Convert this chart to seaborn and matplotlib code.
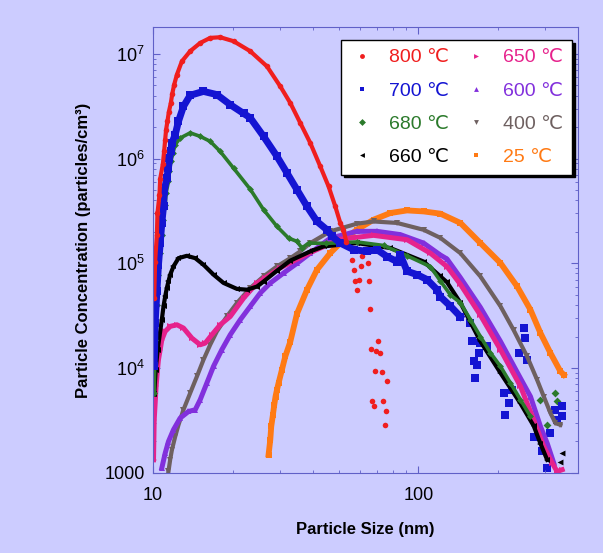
import matplotlib
matplotlib.use("Agg")
import matplotlib.pyplot as plt
import seaborn as sns
from matplotlib.lines import Line2D
from matplotlib.ticker import FixedLocator, NullFormatter, LogLocator

# ---- data (size in nm, concentration in particles/cm3) ----
red_x = [10.09, 10.17, 10.33, 10.38, 10.56, 10.63, 10.88, 11.00, 11.10, 11.19, 11.32, 11.46,
         11.66, 11.80, 12.00, 12.29, 12.83, 13.79, 15.04, 16.41, 17.90, 20.10, 23.23, 26.86,
         30.16, 32.89, 35.87, 39.13, 42.68, 45.86, 48.63, 50.78, 52.2, 53.5]
red_y = [4.7e4, 1.04e5, 1.88e5, 3.0e5, 4.45e5, 6.4e5, 8.9e5, 1.17e6, 1.52e6, 1.89e6, 2.27e6, 2.79e6,
         3.40e6, 4.14e6, 5.08e6, 6.33e6, 8.48e6, 1.06e7, 1.27e7, 1.42e7, 1.44e7, 1.32e7, 1.06e7, 7.6e6,
         4.89e6, 3.40e6, 2.19e6, 1.41e6, 8.42e5, 5.43e5, 3.49e5, 2.43e5, 2.09e5, 1.61e5]
red_tail_x = [56.2, 61.3, 57.0, 60.8, 64.4, 57.8, 59.9, 64.9, 58.7, 65.9, 70.2, 66.3, 69.4, 71.9,
              68.8, 73.0, 76.2, 66.9, 73.6, 68.2, 75.7, 74.6]
red_tail_y = [1.08e5, 1.18e5, 8.69e4, 9.34e4, 1.01e5, 6.72e4, 6.97e4, 6.82e4, 5.51e4, 3.66e4, 1.80e4,
              1.52e4, 1.47e4, 1.39e4, 9.28e3, 9.16e3, 7.56e3, 4.90e3, 4.90e3, 4.36e3, 3.88e3, 2.83e3]

blue_x = [10.09, 10.17, 10.33, 10.47, 10.63, 10.78, 10.94, 11.00, 11.26, 11.42, 11.52, 11.66, 11.77,
          12.11, 12.46, 13.01, 13.79, 15.48, 17.39, 19.53, 21.92, 23.23, 26.08, 29.30, 31.96, 34.86,
          38.04, 41.48, 45.23, 47.25, 50.78, 57.0, 64.05, 69.86, 76.2, 83.1, 85.5, 90.7, 98.9, 107.9,
          117.7, 121.1, 132.1, 144.1]
blue_y = [1.04e4, 2.69e4, 5.39e4, 9.69e4, 1.56e5, 2.43e5, 3.50e5, 4.86e5, 6.53e5, 8.13e5, 1.01e6,
          1.17e6, 1.41e6, 1.69e6, 2.27e6, 3.15e6, 4.02e6, 4.38e6, 4.08e6, 3.27e6, 2.7e6, 2.45e6, 1.63e6,
          1.05e6, 7.29e5, 5.05e5, 3.49e5, 2.51e5, 2.09e5, 1.81e5, 1.56e5, 1.35e5, 1.30e5, 1.35e5,
          1.16e5, 1.04e5, 1.21e5, 8.4e4, 7.8e4, 7.0e4, 5.6e4, 4.8e4, 3.9e4, 3.1e4]
blue_tail_x = [157.2, 159.5, 161.7, 164.1, 166.6, 168.9, 171.4, 181.7, 209.9, 213.0, 219.2, 225.8,
               239.1, 249.7, 253.4, 257.2, 272.4, 293.1, 306.1, 315.0, 328.9, 333.8, 348.6, 348.6]
blue_tail_y = [2.69e4, 1.80e4, 1.16e4, 8.0e3, 1.08e4, 1.39e4, 1.73e4, 1.61e4, 5.77e3, 3.58e3, 4.63e3,
               6.20e3, 1.39e4, 2.41e4, 1.93e4, 1.20e4, 2.22e3, 1.60e3, 1.11e3, 2.39e3, 4.00e3, 3.21e3,
               4.30e3, 3.45e3]

green_x = [10.09, 10.17, 10.33, 10.47, 10.63, 10.78, 10.88, 11.10, 11.19, 11.42, 11.52, 11.66, 11.87,
           12.11, 12.64, 13.79, 15.04, 16.41, 17.90, 20.10, 23.23, 26.08, 29.30, 32.41, 34.86, 36.41,
           38.56, 45.0, 58.7, 73.97, 90.7, 111.0, 121.1, 132.1, 144.1, 157.2, 171.4, 187.0, 204.0,
           222.5, 242.7, 264.8]
green_y = [5.8e3, 1.86e4, 4.0e4, 7.8e4, 1.25e5, 1.88e5, 2.61e5, 3.63e5, 4.69e5, 6.06e5, 7.55e5, 9.4e5,
           1.13e6, 1.36e6, 1.57e6, 1.76e6, 1.63e6, 1.46e6, 1.17e6, 8.1e5, 5.1e5, 3.25e5, 2.25e5,
           1.74e5, 1.62e5, 1.40e5, 1.56e5, 1.55e5, 1.6e5, 1.48e5, 1.18e5, 9.3e4, 6.8e4, 5.0e4, 4.2e4,
           2.9e4, 2.0e4, 1.4e4, 1.04e4, 7.2e3, 5.0e3, 3.45e3]
green_tail_x = [280.6, 288.8, 306.1, 328.9, 333.8]
green_tail_y = [2.39e3, 4.98e3, 2.87e3, 5.77e3, 4.80e3]

black_x = [10.09, 10.22, 10.40, 10.78, 10.94, 11.10, 11.26, 11.42, 11.59, 11.93, 12.46, 13.40, 14.41,
           15.48, 16.89, 18.42, 20.70, 22.58, 24.63, 26.08, 29.30, 32.89, 39.13, 43.92, 58.7, 78.4,
           104.7, 121.1, 128.3, 144.1, 171.4, 204.0, 242.7, 272.4, 288.8, 306.1]
black_y = [5.6e3, 9.6e3, 1.5e4, 2.89e4, 3.88e4, 4.83e4, 5.81e4, 6.72e4, 7.78e4, 9.34e4, 1.12e5, 1.18e5,
           1.12e5, 9.7e4, 7.8e4, 6.5e4, 5.7e4, 5.6e4, 6.0e4, 6.7e4, 8.5e4, 1.06e5, 1.30e5, 1.45e5,
           1.56e5, 1.40e5, 1.04e5, 7.5e4, 6.6e4, 4.2e4, 1.8e4, 9.0e3, 4.6e3, 2.8e3, 1.9e3, 1.33e3]
black_tail_x = [343.6, 348.6]
black_tail_y = [1.28e3, 1.54e3]

pink_x = [10.03, 10.09, 10.26, 10.38, 10.47, 10.63, 10.78, 11.10, 11.59, 12.29, 13.01, 14.00, 15.04,
          15.71, 16.65, 17.90, 19.53, 22.0, 24.63, 26.46, 30.0, 35.0, 40.0, 50.78, 67.8, 90.7, 111.0,
          128.3, 144.1, 171.4, 204.0, 242.7, 272.4, 297.2, 319.7, 333.8, 348.6]
pink_y = [1.33e3, 3.2e3, 6.7e3, 9.6e3, 1.2e4, 1.5e4, 1.86e4, 2.24e4, 2.50e4, 2.59e4, 2.41e4, 1.93e4,
          1.67e4, 1.73e4, 2.08e4, 2.59e4, 3.11e4, 4.7e4, 6.48e4, 7.24e4, 9.0e4, 1.1e5, 1.3e5, 1.70e5,
          1.85e5, 1.68e5, 1.25e5, 9.3e4, 6.3e4, 3.2e4, 1.5e4, 6.7e3, 3.2e3, 1.78e3, 1.24e3, 1.03e3,
          1.07e3]

purple_x = [10.78, 11.10, 11.42, 11.93, 12.64, 13.59, 14.41, 15.04, 15.94, 16.89, 18.16, 19.53, 21.30,
            23.23, 25.34, 27.65, 31.03, 34.86, 39.13, 46.56, 58.7, 69.86, 85.5, 104.7, 121.1, 128.3,
            144.1, 171.4, 204.0, 242.7, 264.8, 288.8, 306.1, 324.1]
purple_y = [1.11e3, 1.54e3, 1.99e3, 2.58e3, 3.33e3, 3.85e3, 4.0e3, 4.98e3, 7.2e3, 1.04e4, 1.50e4,
            2.08e4, 2.89e4, 3.88e4, 5.2e4, 6.48e4, 8.08e4, 1.0e5, 1.25e5, 1.74e5, 2.02e5, 2.02e5,
            1.88e5, 1.56e5, 1.2e5, 1.1e5, 7.3e4, 3.8e4, 1.8e4, 8.0e3, 5.35e3, 2.77e3, 1.92e3, 1.24e3]

grey_x = [11.42, 11.59, 11.77, 12.11, 12.46, 13.01, 13.79, 14.62, 15.48, 16.41, 17.39, 18.97, 20.70,
          23.23, 26.08, 29.30, 32.89, 35.87, 39.13, 46.56, 58.7, 67.8, 83.1, 104.7, 121.1, 144.1,
          171.4, 204.0, 228.9, 257.2, 280.6, 297.2, 315.0, 328.9, 343.6]
grey_y = [1.03e3, 1.33e3, 1.66e3, 2.22e3, 2.87e3, 4.0e3, 5.77e3, 8.31e3, 1.2e4, 1.67e4, 2.24e4,
          3.11e4, 4.18e4, 5.81e4, 7.5e4, 9.34e4, 1.12e5, 1.30e5, 1.56e5, 2.02e5, 2.39e5, 2.51e5,
          2.43e5, 2.09e5, 1.75e5, 1.25e5, 7.5e4, 3.9e4, 2.3e4, 1.29e4, 7.7e3, 5.35e3, 3.72e3,
          2.98e3, 2.87e3]

orange_x = [27.24, 27.65, 27.88, 28.29, 28.62, 28.94, 29.30, 29.71, 30.59, 31.49, 32.89, 34.86, 38.04,
            41.48, 46.56, 52.27, 58.7, 67.8, 78.4, 90.7, 104.7, 121.1, 144.1, 171.4, 204.0, 235.8,
            264.8, 288.8, 315.0, 343.6, 353.6]
orange_y = [1.49e3, 2.07e3, 2.77e3, 3.58e3, 4.46e3, 5.35e3, 6.20e3, 7.19e3, 9.63e3, 1.29e4, 1.78e4,
            3.3e4, 5.6e4, 8.69e4, 1.254e5, 1.68e5, 2.094e5, 2.61e5, 3.02e5, 3.20e5, 3.13e5, 2.98e5,
            2.43e5, 1.563e5, 1.007e5, 6.02e4, 3.60e4, 2.16e4, 1.39e4, 9.28e3, 8.63e3]

labels = ["800 \u2103", "700 \u2103", "680 \u2103", "660 \u2103",
          "650 \u2103", "600 \u2103", "400 \u2103", "25 \u2103"]
colors = ["#F01E1E", "#1414D2", "#2B7A2B", "#000000",
          "#E6228C", "#8230DC", "#6E6060", "#FF7A14"]
markers = ["o", "s", "D", "<", ">", "^", "v", "s"]

# ---- plot ----
bg = "#CCCCFF"
plt.rcParams["font.family"] = ["Liberation Sans", "DejaVu Sans"]
plt.rcParams["mathtext.default"] = "regular"

fig, ax = plt.subplots(figsize=(6.03, 5.53), dpi=100)
fig.patch.set_facecolor(bg)
ax.set_facecolor(bg)
fig.subplots_adjust(left=0.254, right=0.9585, bottom=0.145, top=0.951)

curves = [
    (orange_x, orange_y, 7, 4.2, 5.0),
    (grey_x, grey_y, 6, 3.0, 4.0),
    (purple_x, purple_y, 5, 3.6, 4.5),
    (pink_x, pink_y, 4, 3.6, 4.5),
    (black_x, black_y, 3, 3.0, 4.0),
    (green_x, green_y, 2, 2.6, 3.5),
    (blue_x, blue_y, 1, 5.0, 5.5),
    (red_x, red_y, 0, 3.0, 4.0),
]
for xs, ys, i, lw, ms in curves:
    sns.lineplot(x=xs, y=ys, color=colors[i], linewidth=lw, marker=markers[i],
                 markersize=ms, markeredgewidth=0, estimator=None, sort=False,
                 legend=False, ax=ax)

tails = [
    (green_tail_x, green_tail_y, 2, 16),
    (black_tail_x, black_tail_y, 3, 18),
    (blue_tail_x, blue_tail_y, 1, 28),
    (red_tail_x, red_tail_y, 0, 16),
]
for xs, ys, i, s in tails:
    sns.scatterplot(x=xs, y=ys, color=colors[i], marker=markers[i], s=s,
                    linewidth=0, legend=False, ax=ax)

ax.set_xscale("log")
ax.set_yscale("log")
ax.set_xlim(10, 400)
ax.set_ylim(1000, 1.8e7)

ax.xaxis.set_major_locator(FixedLocator([10, 100]))
ax.set_xticklabels(["10", "100"])
ax.xaxis.set_minor_locator(LogLocator(base=10, subs=range(2, 10)))
ax.xaxis.set_minor_formatter(NullFormatter())
ax.yaxis.set_major_locator(FixedLocator([1e3, 1e4, 1e5, 1e6, 1e7]))
ax.set_yticklabels(["1000", "$10^4$", "$10^5$", "$10^6$", "$10^7$"])
ax.yaxis.set_minor_locator(LogLocator(base=10, subs=range(2, 10)))
ax.yaxis.set_minor_formatter(NullFormatter())

ax.tick_params(which="both", direction="in", top=True, right=True, colors="#6060C8",
               labelcolor="black", labelsize=13)
ax.tick_params(which="major", length=5, width=0.8)
ax.tick_params(which="minor", length=2.5, width=0.6)
ax.tick_params(axis="x", which="major", pad=10)
ax.tick_params(axis="y", which="major", pad=6)
for sp in ax.spines.values():
    sp.set_color("#6060C8")
    sp.set_linewidth(0.8)

ax.set_xlabel("Particle Size (nm)", fontsize=12, fontweight="bold", labelpad=13)
ax.set_ylabel("Particle Concentration (particles/cm\u00b3)", fontsize=12,
              fontweight="bold", labelpad=10)

handles = [Line2D([], [], linestyle="none", marker=markers[i], color=colors[i],
                  markersize=3.5, markeredgewidth=0) for i in range(8)]
leg = ax.legend(handles, labels, ncol=2, loc="upper right",
                bbox_to_anchor=(0.986, 0.971), fontsize=14, frameon=True,
                fancybox=False, shadow={"color": "black", "alpha": 1.0},
                labelspacing=0.8, columnspacing=0.8, handlelength=1.2,
                handletextpad=0.8, borderpad=0.45, borderaxespad=0)
leg.get_frame().set_edgecolor("black")
leg.get_frame().set_linewidth(1.0)
leg.get_frame().set_facecolor("white")
for t, c in zip(leg.get_texts(), colors):
    t.set_color(c)

fig.savefig("out.png", dpi=100, facecolor=bg)
